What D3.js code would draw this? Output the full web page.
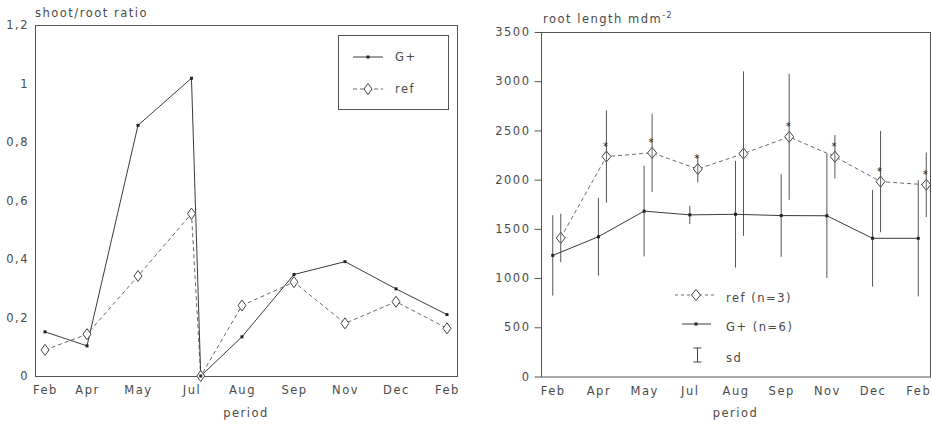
<!DOCTYPE html>
<html>
<head>
<meta charset="utf-8">
<script src="https://cdn.jsdelivr.net/npm/d3@7"></script>
<style>
  html, body { margin: 0; padding: 0; background: #fff; }
  svg text { font-family: "DejaVu Sans", sans-serif; font-size: 11.5px; fill: #4a4a4a; letter-spacing: 1.5px; }
</style>
</head>
<body>
<svg id="chart" width="932" height="426"></svg>
<script>
// Sampling periods (x axis of both panels)
const periods = ["Feb", "Apr", "May", "Jul", "Aug", "Sep", "Nov", "Dec", "Feb"];

// Left panel: shoot/root ratio. Sampling positions along the season
// (the extra point right after Jul is the harvest cut, ratio 0).
const ratioPos = [0, 0.836, 1.851, 2.915, 3.099, 3.92, 4.955, 5.97, 6.985, 8];
const ratioG = [0.151, 0.103, 0.857, 1.018, 0, 0.134, 0.347, 0.391, 0.298, 0.21];
const ratioRef = [0.089, 0.143, 0.342, 0.555, 0, 0.241, 0.321, 0.18, 0.254, 0.163];
const ratioTicks = [0, 0.2, 0.4, 0.6, 0.8, 1, 1.2];

// Right panel: root length (m dm^-2), mean and sd
const rootG = [1230, 1420, 1680, 1642, 1648, 1635, 1633, 1404, 1404];
const rootGsd = [408, 395, 460, 93, 542, 420, 632, 491, 590];
const rootRef = [1408, 2235, 2272, 2108, 2265, 2435, 2233, 1980, 1948];
const rootRefSd = [246, 469, 398, 136, 835, 640, 220, 515, 327];
const rootSig = [false, true, true, true, false, true, true, true, true];
const rootTicks = [0, 500, 1000, 1500, 2000, 2500, 3000, 3500];

const svg = d3.select("#chart");
const ink = "#3a3a3a";
const dashInk = "#6a6a6a";

function diamond(g, x, y, w, h) {
  g.append("path")
    .attr("d", `M${x},${y - h / 2}L${x + w / 2},${y}L${x},${y + h / 2}L${x - w / 2},${y}Z`)
    .attr("fill", "#fff").attr("stroke", "#444").attr("stroke-width", 1);
}
function dot(g, x, y) {
  g.append("rect").attr("x", x - 1.5).attr("y", y - 1.5).attr("width", 3).attr("height", 3).attr("fill", "#222");
}
function plainText(sel) {
  sel.selectAll("text").attr("font-size", null).attr("font-family", null).attr("fill", null);
}

// ---------- Left panel ----------
{
  const L = { left: 35, right: 457, top: 25, bottom: 376 };
  const x = d3.scaleLinear().domain([0, 8]).range([45, 447]);
  const y = d3.scaleLinear().domain([0, 1.2]).range([L.bottom, L.top]);
  const g = svg.append("g");

  g.append("rect").attr("x", L.left + 0.5).attr("y", L.top + 0.5)
    .attr("width", L.right - L.left).attr("height", L.bottom - L.top)
    .attr("fill", "none").attr("stroke", "#555").attr("stroke-width", 1);

  const yAxis = d3.axisLeft(y).tickValues(ratioTicks).tickSize(0).tickPadding(6)
    .tickFormat(d => String(d).replace(".", ","));
  g.append("g").attr("transform", `translate(${L.left},0)`).call(yAxis)
    .call(a => a.select(".domain").remove())
    .call(plainText);

  const tickPos = ratioPos.filter((d, i) => i !== 4);
  const xAxis = d3.axisBottom(x).tickValues(tickPos).tickSize(0).tickPadding(10)
    .tickFormat((d, i) => periods[i]);
  g.append("g").attr("transform", `translate(0,${L.bottom})`).call(xAxis)
    .call(a => a.select(".domain").remove())
    .call(plainText);

  g.append("text").attr("x", 35).attr("y", 17).text("shoot/root ratio");
  g.append("text").attr("x", (L.left + L.right) / 2).attr("y", 417).attr("text-anchor", "middle").text("period");

  const line = d3.line().x((d, i) => x(ratioPos[i])).y(d => y(d));
  g.append("path").datum(ratioRef).attr("d", line).attr("fill", "none")
    .attr("stroke", dashInk).attr("stroke-width", 1).attr("stroke-dasharray", "4,3");
  g.append("path").datum(ratioG).attr("d", line).attr("fill", "none")
    .attr("stroke", ink).attr("stroke-width", 1);
  ratioRef.forEach((v, i) => diamond(g, x(ratioPos[i]), y(v), 8, 11));
  ratioG.forEach((v, i) => dot(g, x(ratioPos[i]), y(v)));

  // legend
  const lg = g.append("g");
  lg.append("rect").attr("x", 338.5).attr("y", 35.5).attr("width", 110).attr("height", 74)
    .attr("fill", "#fff").attr("stroke", "#555");
  lg.append("line").attr("x1", 353).attr("x2", 383).attr("y1", 57).attr("y2", 57).attr("stroke", ink);
  dot(lg, 368, 57);
  lg.append("text").attr("x", 395).attr("y", 61).text("G+");
  lg.append("line").attr("x1", 353).attr("x2", 383).attr("y1", 89).attr("y2", 89)
    .attr("stroke", dashInk).attr("stroke-dasharray", "4,3");
  diamond(lg, 368, 89, 8, 11);
  lg.append("text").attr("x", 395).attr("y", 93).text("ref");
}

// ---------- Right panel ----------
{
  const R = { left: 541, right: 930, top: 32, bottom: 376.5 };
  const x = d3.scalePoint().domain(d3.range(periods.length)).range([R.left, R.right]).padding(0.257);
  const dodge = 8;
  const y = d3.scaleLinear().domain([0, 3500]).range([R.bottom, R.top]);
  const g = svg.append("g");

  g.append("rect").attr("x", R.left + 0.5).attr("y", R.top + 0.5)
    .attr("width", R.right - R.left).attr("height", R.bottom - R.top)
    .attr("fill", "none").attr("stroke", "#555").attr("stroke-width", 1);

  const yAxis = d3.axisLeft(y).tickValues(rootTicks).tickSize(7).tickPadding(4).tickFormat(d3.format("d"));
  g.append("g").attr("transform", `translate(${R.left + 0.5},0)`).call(yAxis)
    .call(a => a.select(".domain").remove())
    .call(a => a.selectAll("line").attr("stroke", "#555"))
    .call(plainText);

  const xAxis = d3.axisBottom(x).tickSize(0).tickPadding(10).tickFormat(i => periods[i]);
  g.append("g").attr("transform", `translate(0,${R.bottom})`).call(xAxis)
    .call(a => a.select(".domain").remove())
    .call(plainText);

  const t = g.append("text").attr("x", 543).attr("y", 23);
  t.append("tspan").text("root length mdm");
  t.append("tspan").attr("dy", -5).attr("font-size", 8).text("-2");
  g.append("text").attr("x", (R.left + R.right) / 2).attr("y", 417).attr("text-anchor", "middle").text("period");

  // sd bars
  rootG.forEach((v, i) => {
    g.append("line").attr("x1", x(i)).attr("x2", x(i))
      .attr("y1", y(v - rootGsd[i])).attr("y2", y(v + rootGsd[i])).attr("stroke", "#555");
  });
  rootRef.forEach((v, i) => {
    g.append("line").attr("x1", x(i) + dodge).attr("x2", x(i) + dodge)
      .attr("y1", y(v - rootRefSd[i])).attr("y2", y(v + rootRefSd[i])).attr("stroke", "#555");
  });

  const lineRef = d3.line().x((d, i) => x(i) + dodge).y(d => y(d));
  const lineG = d3.line().x((d, i) => x(i)).y(d => y(d));
  g.append("path").datum(rootRef).attr("d", lineRef).attr("fill", "none")
    .attr("stroke", dashInk).attr("stroke-dasharray", "4,3");
  g.append("path").datum(rootG).attr("d", lineG).attr("fill", "none").attr("stroke", ink);

  rootRef.forEach((v, i) => {
    const cx = x(i) + dodge, cy = y(v);
    diamond(g, cx, cy, 9, 11);
    g.append("line").attr("x1", cx).attr("x2", cx).attr("y1", cy - 5).attr("y2", cy + 5).attr("stroke", "#666");
  });
  rootG.forEach((v, i) => dot(g, x(i), y(v)));

  // significance marks
  rootRef.forEach((v, i) => {
    if (!rootSig[i]) return;
    g.append("text").attr("x", x(i) + dodge - 1).attr("y", y(v) - 7)
      .attr("text-anchor", "middle").style("font-size", "10px").style("letter-spacing", "0")
      .style("fill", "#222").text("*");
  });

  // legend
  const lg = g.append("g");
  lg.append("line").attr("x1", 675).attr("x2", 714).attr("y1", 295).attr("y2", 295)
    .attr("stroke", dashInk).attr("stroke-dasharray", "3,3");
  diamond(lg, 696, 295, 9, 11);
  lg.append("text").attr("x", 726).attr("y", 302).text("ref (n=3)");
  lg.append("line").attr("x1", 682).attr("x2", 711).attr("y1", 324).attr("y2", 324).attr("stroke", ink);
  dot(lg, 696, 324);
  lg.append("text").attr("x", 726).attr("y", 331).text("G+ (n=6)");
  lg.append("line").attr("x1", 697.5).attr("x2", 697.5).attr("y1", 348).attr("y2", 362).attr("stroke", "#444");
  lg.append("line").attr("x1", 693.5).attr("x2", 701.5).attr("y1", 348).attr("y2", 348).attr("stroke", "#444");
  lg.append("line").attr("x1", 693.5).attr("x2", 701.5).attr("y1", 362).attr("y2", 362).attr("stroke", "#444");
  lg.append("text").attr("x", 726).attr("y", 362).text("sd");
}
</script>
</body>
</html>
